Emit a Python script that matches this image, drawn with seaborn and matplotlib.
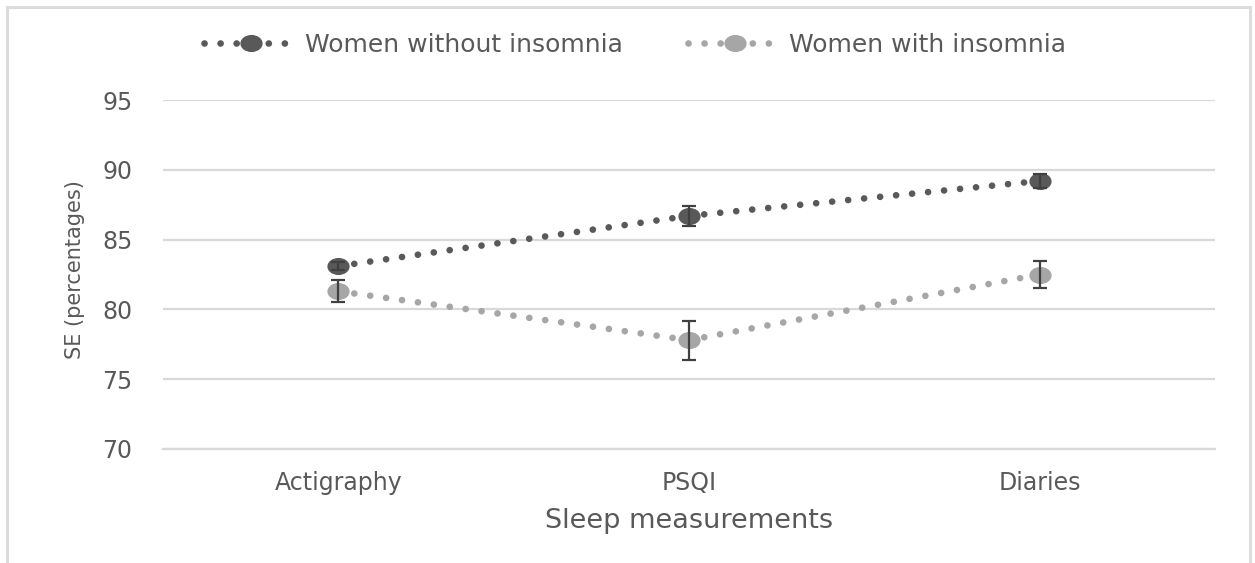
import numpy as np
import pandas as pd
import matplotlib
matplotlib.use("Agg")
import matplotlib.pyplot as plt
from matplotlib.path import Path
from matplotlib.transforms import Affine2D
from matplotlib.lines import Line2D
from matplotlib.patches import Rectangle
import seaborn as sns

# Sleep efficiency by measurement method
categories = ["Actigraphy", "PSQI", "Diaries"]
groups = ["Women without insomnia", "Women with insomnia"]
without_mean = [83.1, 86.7, 89.2]
without_err = [0.3, 0.7, 0.5]
with_mean = [81.3, 77.8, 82.5]
with_err = [0.8, 1.4, 1.0]
y_ticks = [70, 75, 80, 85, 90, 95]

colors = {"Women without insomnia": "#595959", "Women with insomnia": "#A6A6A6"}
text_color = "#595959"
grid_color = "#D9D9D9"

df = pd.DataFrame({
    "measure": categories * 2,
    "value": without_mean + with_mean,
    "group": [groups[0]] * 3 + [groups[1]] * 3,
})

sns.set_theme(style="white")
plt.rcParams["font.family"] = ["DejaVu Sans"]

fig = plt.figure(figsize=(12.55, 5.63), dpi=100)
ax = fig.add_axes([163 / 1255, 1 - 449 / 563, (1215 - 163) / 1255, 349 / 563])

# slightly wide round marker
ellipse = Path.unit_circle().transformed(Affine2D().scale(1.3, 1.0))
line_w = 4.8
dot_style = (0, (0.01, 2.4))

sns.pointplot(data=df, x="measure", y="value", hue="group", order=categories,
              hue_order=groups, palette=colors, markers=[ellipse, ellipse],
              errorbar=None, ax=ax, legend=False)

for line in ax.lines:
    line.set_linewidth(line_w)
    line.set_linestyle(dot_style)
    line.set_dash_capstyle("round")
    line.set_markersize(16)
    line.set_markeredgewidth(0)
    line.set_zorder(3)

xpos = np.arange(len(categories))
for mean, err in ((without_mean, without_err), (with_mean, with_err)):
    ax.errorbar(xpos, mean, yerr=err, fmt="none", ecolor="#404040",
                elinewidth=1.6, capsize=4.8, capthick=1.6, zorder=4)

ax.set_xlim(-0.5, 2.5)
ax.set_ylim(70, 95)
ax.set_yticks(y_ticks)
ax.yaxis.grid(True, color=grid_color, linewidth=1.6)
ax.set_axisbelow(True)
for side in ("top", "right", "left"):
    ax.spines[side].set_visible(False)
ax.spines["bottom"].set_color(grid_color)
ax.spines["bottom"].set_linewidth(1.6)
ax.tick_params(axis="both", length=0, labelcolor=text_color, labelsize=17)
ax.tick_params(axis="y", pad=22)
ax.tick_params(axis="x", pad=16)

ax.set_xlabel("Sleep measurements", fontsize=19.5, color=text_color)
ax.xaxis.set_label_coords(0.5, -0.205)
ax.xaxis.label.set_va("center")
ax.set_ylabel("SE (percentages)", fontsize=15, color=text_color)
ax.yaxis.set_label_coords(-0.084, 0.513)
ax.yaxis.label.set_va("center")

handles = [Line2D([], [], color=colors[g], linestyle=dot_style, linewidth=line_w,
                  dash_capstyle="round", marker=ellipse, markersize=16,
                  markeredgewidth=0) for g in groups]
fig.legend(handles, groups, loc="center", bbox_to_anchor=(0.506, 0.92),
           ncol=2, frameon=False, fontsize=18, handlelength=3.8,
           handletextpad=0.25, columnspacing=2.6, numpoints=1,
           labelcolor=text_color)

# light outer frame
fig.patches.append(Rectangle((7 / 1255, -0.1), (1250 - 7) / 1255, 1.1 - 7 / 563,
                             transform=fig.transFigure, fill=False,
                             edgecolor="#DCDCDC", linewidth=2.2, zorder=0))

fig.savefig("out.png", dpi=100)
